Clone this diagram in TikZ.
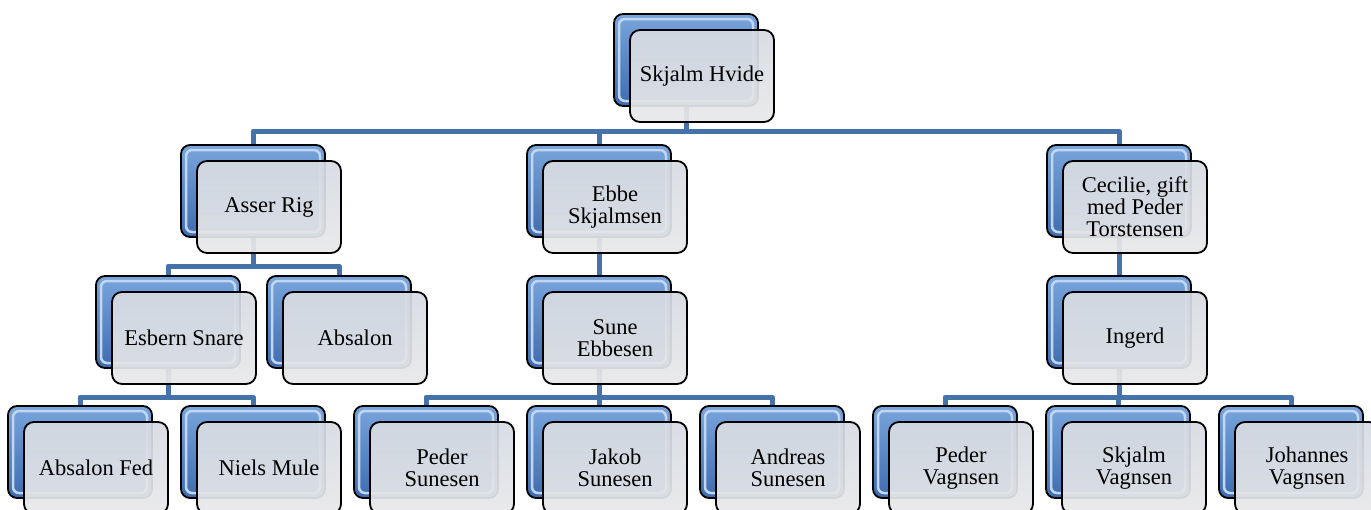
\documentclass[tikz,border=0pt]{standalone}
\usepackage{fontspec}
\setmainfont{Liberation Serif}
\definecolor{conncol}{RGB}{70,114,170}
\definecolor{blueA}{RGB}{120,165,220}
\definecolor{blueB}{RGB}{62,108,175}
\definecolor{greyA}{RGB}{214,219,226}
\definecolor{greyB}{RGB}{232,232,233}
\tikzset{
  link/.style={draw=conncol, line width=5pt, line join=round},
  backbox/.style={draw=black, line width=1.8pt, rounded corners=9pt,
    top color=blueA, bottom color=blueB, minimum width=144pt, minimum height=92pt,
    path picture={\draw[white!55!blueA, line width=2.5pt, rounded corners=6pt]
      ([shift={(5pt,-5pt)}]path picture bounding box.north west) rectangle
      ([shift={(-5pt,5pt)}]path picture bounding box.south east);}},
  frontbox/.style={draw=black, line width=1.8pt, rounded corners=10pt,
    top color=greyA, bottom color=greyB, fill opacity=0.93, text opacity=1,
    minimum width=144pt, minimum height=92pt, align=center, inner sep=2pt,
    font=\fontsize{22.5}{22}\selectfont}
}
\newcommand\famunit[4]{%
  \node[backbox] (#1b) at (#2+72,#3+46) {};
  \node[frontbox] (#1) at (#2+88,#3+62) {#4};}
\begin{document}
\begin{tikzpicture}[x=1pt,y=-1pt]
\useasboundingbox (0,0) rectangle (1371,509);
\coordinate (busA) at (0,131);
\coordinate (busB) at (0,266);
\coordinate (busC) at (0,397);
% centers of back boxes
\coordinate (cS) at (686,60);
\coordinate (cA) at (253,191);
\coordinate (cE) at (599,191);
\coordinate (cC) at (1119,191);
\coordinate (cEs) at (168,322);
\coordinate (cAb) at (339,322);
\coordinate (cSu) at (599,322);
\coordinate (cIn) at (1119,322);
\coordinate (cAF) at (80,452);
\coordinate (cNM) at (253,452);
\coordinate (cPS) at (426,452);
\coordinate (cJS) at (599,452);
\coordinate (cAS) at (772,452);
\coordinate (cPV) at (945,452);
\coordinate (cSV) at (1118,452);
\coordinate (cJV) at (1291,452);
% connectors
\draw[link] (cS) -- (cS |- busA) -| (cA);
\draw[link] (cS) -- (cS |- busA) -| (cE);
\draw[link] (cS) -- (cS |- busA) -| (cC);
\draw[link] (cA) -- (cA |- busB) -| (cEs);
\draw[link] (cA) -- (cA |- busB) -| (cAb);
\draw[link] (cE) -- (cSu);
\draw[link] (cC) -- (cIn);
\draw[link] (cEs) -- (cEs |- busC) -| (cAF);
\draw[link] (cEs) -- (cEs |- busC) -| (cNM);
\draw[link] (cSu) -- (cSu |- busC) -| (cPS);
\draw[link] (cSu) -- (cSu |- busC) -| (cJS);
\draw[link] (cSu) -- (cSu |- busC) -| (cAS);
\draw[link] (cIn) -- (cIn |- busC) -| (cPV);
\draw[link] (cIn) -- (cIn |- busC) -| (cSV);
\draw[link] (cIn) -- (cIn |- busC) -| (cJV);
% boxes
\famunit{S}{614}{14}{Skjalm Hvide}
\famunit{A}{181}{145}{Asser Rig}
\famunit{E}{527}{145}{Ebbe\\Skjalmsen}
\famunit{C}{1047}{145}{Cecilie, gift\\med Peder\\Torstensen}
\famunit{Es}{96}{276}{Esbern Snare}
\famunit{Ab}{267}{276}{Absalon}
\famunit{Su}{527}{276}{Sune\\Ebbesen}
\famunit{In}{1047}{276}{Ingerd}
\famunit{AF}{8}{406}{Absalon Fed}
\famunit{NM}{181}{406}{Niels Mule}
\famunit{PS}{354}{406}{Peder\\Sunesen}
\famunit{JS}{527}{406}{Jakob\\Sunesen}
\famunit{AS}{700}{406}{Andreas\\Sunesen}
\famunit{PV}{873}{406}{Peder\\Vagnsen}
\famunit{SV}{1046}{406}{Skjalm\\Vagnsen}
\famunit{JV}{1219}{406}{Johannes\\Vagnsen}
\end{tikzpicture}
\end{document}
